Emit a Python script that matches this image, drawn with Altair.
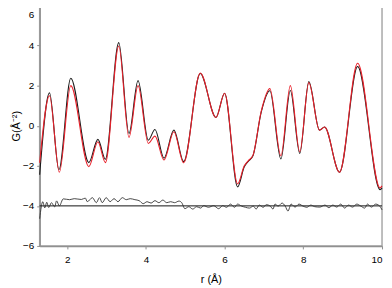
import altair as alt
import pandas as pd

# observed G(r) (black)
r_obs = [1.30, 1.55, 1.79, 2.09, 2.55, 2.78, 2.97, 3.31, 3.57, 3.80, 4.06, 4.23, 4.46, 4.71, 4.96,
         5.38, 5.78, 6.00, 6.33, 6.50, 6.60, 6.72, 6.93, 7.15, 7.43, 7.67, 7.91, 8.14, 8.41, 8.54,
         8.92, 9.38, 9.95, 10.0]
g_obs = [-2.45, 1.64, -2.20, 2.37, -1.84, -0.68, -1.67, 4.15, -0.39, 2.25, -0.72, -0.19, -1.62, -0.22, -1.79,
         2.61, 0.41, 1.62, -3.05, -2.05, -1.78, -1.50, 0.68, 1.75, -1.66, 1.76, -1.38, 2.20, -0.22, -0.06,
         -2.32, 2.96, -3.19, -3.10]

# calculated G(r) (red)
r_calc = [1.30, 1.55, 1.80, 2.09, 2.55, 2.78, 2.97, 3.31, 3.57, 3.80, 4.06, 4.23, 4.46, 4.71, 4.96,
          5.38, 5.78, 6.00, 6.33, 6.50, 6.60, 6.72, 6.93, 7.15, 7.43, 7.67, 7.91, 8.14, 8.41, 8.54,
          8.92, 9.38, 9.95, 10.0]
g_calc = [-1.85, 1.50, -2.32, 2.00, -2.04, -0.80, -1.84, 3.98, -0.58, 2.00, -0.88, -0.52, -1.71, -0.30, -1.85,
          2.63, 0.41, 1.62, -2.90, -2.00, -1.75, -1.48, 0.72, 1.85, -1.50, 2.00, -1.30, 2.15, -0.22, -0.06,
          -2.32, 3.12, -3.10, -3.00]

# difference curve (offset)
r_diff = [1.30, 1.38, 1.43, 1.48, 1.53, 1.60, 1.68, 1.73, 1.80, 1.90, 2.06, 2.18, 2.36, 2.46, 2.51,
          2.64, 2.74, 2.82, 2.89, 2.99, 3.09, 3.19, 3.29, 3.40, 3.50, 3.60, 3.72, 3.83, 3.93, 4.03,
          4.13, 4.23, 4.33, 4.43, 4.53, 4.63, 4.73, 4.84, 4.91, 4.99, 5.09, 5.19, 5.29, 5.39, 5.47,
          5.59, 5.72, 5.85, 5.95, 6.05, 6.15, 6.25, 6.33, 6.43, 6.53, 6.63, 6.73, 6.80, 6.88, 6.98,
          7.06, 7.16, 7.23, 7.28, 7.36, 7.46, 7.54, 7.61, 7.69, 7.79, 7.89, 7.99, 8.09, 8.19, 8.29,
          8.42, 8.55, 8.65, 8.75, 8.85, 8.95, 9.05, 9.15, 9.25, 9.36, 9.46, 9.56, 9.63, 9.73, 9.84,
          9.91, 9.99, 10.0]
g_diff = [-4.64, -3.79, -4.10, -3.82, -4.08, -3.84, -4.05, -3.75, -4.00, -3.65, -3.69, -3.64, -3.68, -3.61, -3.79,
          -3.59, -3.84, -3.59, -3.84, -3.59, -3.79, -3.64, -3.79, -3.59, -3.69, -3.64, -3.69, -3.74, -3.89, -3.79,
          -3.86, -3.74, -3.84, -3.71, -3.84, -3.79, -3.84, -3.76, -3.84, -4.14, -4.04, -4.16, -4.04, -4.11, -3.99,
          -4.07, -3.99, -4.14, -3.99, -4.07, -3.91, -4.07, -3.91, -4.01, -4.07, -4.11, -4.01, -4.16, -3.96, -4.07,
          -3.94, -4.01, -4.16, -3.91, -4.01, -3.86, -4.01, -4.26, -3.91, -4.06, -3.91, -4.01, -4.07, -3.96, -4.04,
          -4.06, -3.96, -4.09, -3.96, -4.06, -3.91, -4.11, -3.96, -4.06, -3.91, -4.01, -4.11, -3.91, -4.06, -3.91,
          -3.96, -4.16, -4.20]

baseline_r = [1.30, 10.0]
baseline_g = [-4.0, -4.0]

x_ticks = [2, 4, 6, 8, 10]
y_ticks = [-6, -4, -2, 0, 2, 4, 6]

obs = pd.DataFrame({"r": r_obs, "G": g_obs})
calc = pd.DataFrame({"r": r_calc, "G": g_calc})
diff = pd.DataFrame({"r": r_diff, "G": g_diff})
base = pd.DataFrame({"r": baseline_r, "G": baseline_g})

xscale = alt.Scale(domain=[1.3, 10], nice=False, zero=False)
yscale = alt.Scale(domain=[-6, 6], nice=False)

xenc = alt.X("r:Q", scale=xscale, title="r (Å)",
             axis=alt.Axis(values=x_ticks, grid=False, format="d", labelPadding=6, titlePadding=9))
yenc = alt.Y("G:Q", scale=yscale, title="G(Å⁻²)",
             axis=alt.Axis(values=y_ticks, grid=False, format="d", labelPadding=3, titlePadding=1,
                           labelBaseline={"condition": {"test": "datum.value == 6", "value": "top"},
                                          "value": "middle"},
                           labelOffset={"condition": {"test": "datum.value == 6", "value": 4},
                                        "value": 0}))

black = alt.Chart(obs).mark_line(color="#1a1a1a", strokeWidth=1.1, interpolate="monotone").encode(x=xenc, y=yenc)
red = alt.Chart(calc).mark_line(color="#e8202a", strokeWidth=1.1, interpolate="monotone").encode(x=xenc, y=yenc)
dline = alt.Chart(diff).mark_line(color="#333333", strokeWidth=0.9, interpolate="monotone").encode(x=xenc, y=yenc)
bline = alt.Chart(base).mark_line(color="#111111", strokeWidth=1.0).encode(x=xenc, y=yenc)

chart = alt.layer(bline, dline, black, red).properties(
    width=346, height=243,
    autosize=alt.AutoSizeParams(type="none"),
    padding={"left": 32, "top": -4, "right": 2, "bottom": 41},
).configure_view(
    stroke="#a8a8a8", strokeWidth=1.5
).configure_axis(
    domainColor="#909090", domainWidth=1.5, tickColor="#909090", tickSize=3,
    labelFont="Liberation Sans", labelFontSize=10, labelColor="#000000",
    titleFont="Liberation Sans", titleFontSize=11, titleFontWeight="normal", titleColor="#000000",
)

chart.save("out.html", embed_options={"renderer": "svg", "actions": False})
